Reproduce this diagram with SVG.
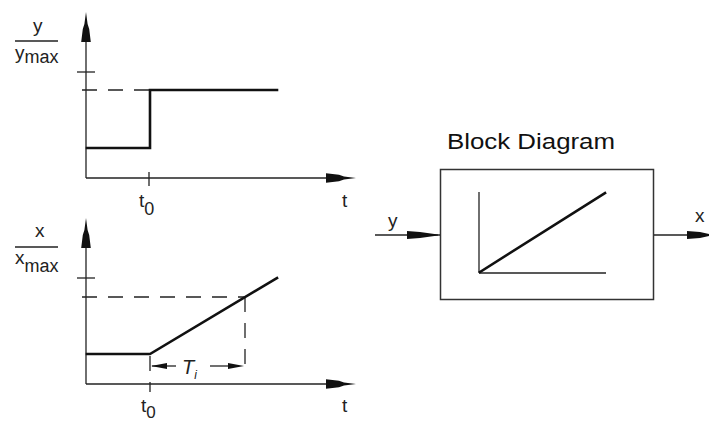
<svg xmlns="http://www.w3.org/2000/svg" width="709" height="421" viewBox="0 0 709 421">
<style>
.ax{stroke:#222;stroke-width:1.3;fill:none}
.thick{stroke:#111;stroke-width:2.6;fill:none;stroke-linecap:square}
.dash{stroke:#222;stroke-width:1.3;fill:none;stroke-dasharray:15 11}
.ah{fill:#111}
text{font-family:"Liberation Sans",Arial,sans-serif;fill:#222}
.lbl{font-size:19px}
.bd{font-size:22px;fill:#111}
</style>
<defs>
<path id="ahBig" d="M0,0 L-12,-1.6 L-17,-3.2 L-30,-4.8 L-30,4.8 L-17,3.2 L-12,1.6 Z"/>
<path id="ahSm" d="M0,0 L-8,-1.5 L-16,-3 L-16,3 L-8,1.5 Z"/>
</defs>
<g id="plot-top">
<line class="ax" x1="86" y1="20" x2="86" y2="178"/>
<line class="ax" x1="86" y1="178" x2="340" y2="178"/>
<use href="#ahBig" class="ah" transform="translate(86,12) rotate(-90)"/>
<use href="#ahBig" class="ah" transform="translate(356,178)"/>
<line class="ax" x1="77" y1="72" x2="95" y2="72"/>
<line class="dash" x1="82" y1="90" x2="150" y2="90"/>
<line class="ax" x1="149" y1="172" x2="149" y2="186"/>
<polyline class="thick" points="87,148 150,148 150,90 277,90"/>
<text class="lbl" x="33" y="32">y</text>
<line class="ax" x1="15" y1="41" x2="58" y2="41"/>
<text class="lbl" x="15" y="59">y<tspan font-size="18" dy="4">max</tspan></text>
<text class="lbl" x="139" y="207" font-size="18">t<tspan font-size="18" dy="8">0</tspan></text>
<text class="lbl" x="342" y="207" font-size="18">t</text>
</g>
<g id="plot-bottom">
<line class="ax" x1="86" y1="226" x2="86" y2="384"/>
<line class="ax" x1="86" y1="384" x2="340" y2="384"/>
<use href="#ahBig" class="ah" transform="translate(86,218) rotate(-90)"/>
<use href="#ahBig" class="ah" transform="translate(356,384)"/>
<line class="ax" x1="77" y1="278" x2="95" y2="278"/>
<line class="dash" x1="82" y1="297" x2="245" y2="297"/>
<line class="dash" x1="245" y1="297" x2="245" y2="373" stroke-dasharray="26 6"/>
<line class="dash" x1="150" y1="356" x2="150" y2="392" stroke-dasharray="16 4"/>
<polyline class="thick" points="87,354 150,354 277,278"/>
<line class="ax" x1="152" y1="366" x2="176" y2="366"/>
<use href="#ahSm" class="ah" transform="translate(151,366) rotate(180)"/>
<line class="ax" x1="210" y1="366" x2="232" y2="366"/>
<use href="#ahSm" class="ah" transform="translate(244,366)"/>
<text x="182" y="374" font-size="20" font-style="italic">T<tspan font-size="12" dy="5">i</tspan></text>
<text class="lbl" x="35" y="237">x</text>
<line class="ax" x1="15" y1="247" x2="58" y2="247"/>
<text class="lbl" x="15" y="264">x<tspan font-size="18" dy="8">max</tspan></text>
<text class="lbl" x="141" y="412" font-size="18">t<tspan font-size="17" dy="6">0</tspan></text>
<text class="lbl" x="342" y="412" font-size="18">t</text>
</g>
<g id="block">
<text class="bd" x="447" y="149" font-size="23" textLength="168" lengthAdjust="spacingAndGlyphs">Block Diagram</text>
<rect x="440.5" y="169.5" width="213" height="130" fill="none" stroke="#333" stroke-width="1.5"/>
<line class="ax" x1="479" y1="192" x2="479" y2="273"/>
<line class="ax" x1="479" y1="273" x2="606" y2="273"/>
<line class="thick" x1="480" y1="272" x2="605" y2="193" stroke-linecap="round"/>
</g>
<g id="connectors">
<line class="ax" x1="375" y1="235" x2="440" y2="235"/>
<path class="ah" d="M407,231 L420,232 L438,234.5 L438,235.5 L420,238 L407,239 Z"/>
<line class="ax" x1="654" y1="235" x2="700" y2="235"/>
<path class="ah" d="M687,231 L700,232 L709,234 L709,236 L700,238 L687,239 Z"/>
<text class="lbl" x="388" y="227">y</text>
<text class="lbl" x="695" y="222">x</text>
</g>
</svg>
